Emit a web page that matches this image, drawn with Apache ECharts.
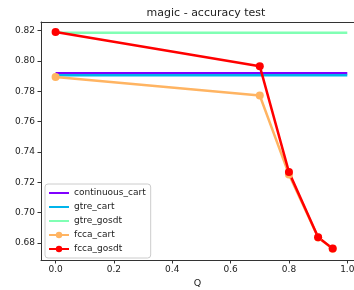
<!DOCTYPE html>
<html>
<head>
<meta charset="utf-8">
<script src="https://cdn.jsdelivr.net/npm/echarts@6/dist/echarts.min.js"></script>
<style>
  html, body { margin: 0; padding: 0; background: #fff; }
  #chart { width: 354px; height: 290px; }
</style>
</head>
<body>
<div id="chart"></div>
<script>
// values
const qValues = [0, 0.7, 0.8, 0.9, 0.95];
const fccaCart = [0.7893, 0.7772, 0.7252, 0.6836, 0.6762];
const fccaGosdt = [0.8190, 0.7965, 0.7267, 0.6838, 0.6763];
const continuousCart = 0.7918;
const gtreCart = 0.7905;
const gtreGosdt = 0.8186;
const lineRange = [0, 1];
const xTicks = [0, 0.2, 0.4, 0.6, 0.8, 1.0];
const yTicks = [0.68, 0.70, 0.72, 0.74, 0.76, 0.78, 0.80, 0.82];

const font = 'DejaVu Sans';

function flat(v) {
  return lineRange.map(q => [q, v]);
}
function pairs(ys) {
  return qValues.map((q, i) => [q, ys[i]]);
}

const chart = echarts.init(document.getElementById('chart'));

// the figure is cut on the right, so the axis runs past the canvas edge
// and there is no right spine; the top spine is a bare second x axis
const option = {
  animation: false,
  backgroundColor: '#fff',
  title: {
    text: 'magic - accuracy test',
    left: 201,
    textAlign: 'center',
    top: 3,
    textStyle: { fontFamily: font, fontSize: 11, fontWeight: 'normal', color: '#222' }
  },
  grid: {
    left: 41, top: 22, bottom: 30, right: 0,
    outerBoundsMode: 'none'
  },
  xAxis: [
    {
      type: 'value',
      min: -0.05,
      max: 1.023,
      name: 'Q',
      nameLocation: 'middle',
      nameGap: 19,
      nameTextStyle: { fontFamily: font, fontSize: 9.5, color: '#222' },
      axisLine: { show: true, onZero: false, lineStyle: { color: '#333' } },
      axisTick: { show: true, length: 3.5, customValues: xTicks, lineStyle: { color: '#333' } },
      axisLabel: {
        customValues: xTicks,
        formatter: v => v.toFixed(1),
        fontFamily: font, fontSize: 9, color: '#222', margin: 5
      },
      splitLine: { show: false }
    },
    {
      type: 'value',
      position: 'top',
      min: -0.05,
      max: 1.023,
      axisLine: { show: true, onZero: false, lineStyle: { color: '#333' } },
      axisTick: { show: false },
      axisLabel: { show: false },
      splitLine: { show: false }
    }
  ],
  yAxis: {
    type: 'value',
    min: 0.6688,
    max: 0.8256,
    axisLine: { show: true, onZero: false, lineStyle: { color: '#333' } },
    axisTick: { show: true, length: 3.5, customValues: yTicks, lineStyle: { color: '#333' } },
    axisLabel: {
      customValues: yTicks,
      formatter: v => v.toFixed(2),
      fontFamily: font, fontSize: 9, color: '#222', margin: 6
    },
    splitLine: { show: false }
  },
  legend: {
    orient: 'vertical',
    left: 45,
    top: 184,
    padding: [3, 5, 3, 3],
    itemGap: 2,
    itemWidth: 20,
    itemHeight: 8,
    backgroundColor: 'rgba(255,255,255,0.85)',
    borderColor: '#ccc',
    borderWidth: 1,
    borderRadius: 3,
    textStyle: { fontFamily: font, fontSize: 9, color: '#222', lineHeight: 12 },
    data: [
      { name: 'continuous_cart', itemStyle: { opacity: 0 } },
      { name: 'gtre_cart', itemStyle: { opacity: 0 } },
      { name: 'gtre_gosdt', itemStyle: { opacity: 0 } },
      'fcca_cart',
      'fcca_gosdt'
    ]
  },
  series: [
    {
      name: 'continuous_cart', type: 'line', data: flat(continuousCart),
      symbol: 'none', color: '#8000ff', lineStyle: { width: 2.5 }
    },
    {
      name: 'gtre_cart', type: 'line', data: flat(gtreCart),
      symbol: 'none', color: '#00b4eb', lineStyle: { width: 2.5 }
    },
    {
      name: 'gtre_gosdt', type: 'line', data: flat(gtreGosdt),
      symbol: 'none', color: '#80ffb4', lineStyle: { width: 2.5 }
    },
    {
      name: 'fcca_cart', type: 'line', data: pairs(fccaCart),
      symbol: 'circle', symbolSize: 8, color: '#ffb462', lineStyle: { width: 2.5 }
    },
    {
      name: 'fcca_gosdt', type: 'line', data: pairs(fccaGosdt),
      symbol: 'circle', symbolSize: 8, color: '#ff0000', lineStyle: { width: 2.5 }
    }
  ]
};

chart.setOption(option);
</script>
</body>
</html>
